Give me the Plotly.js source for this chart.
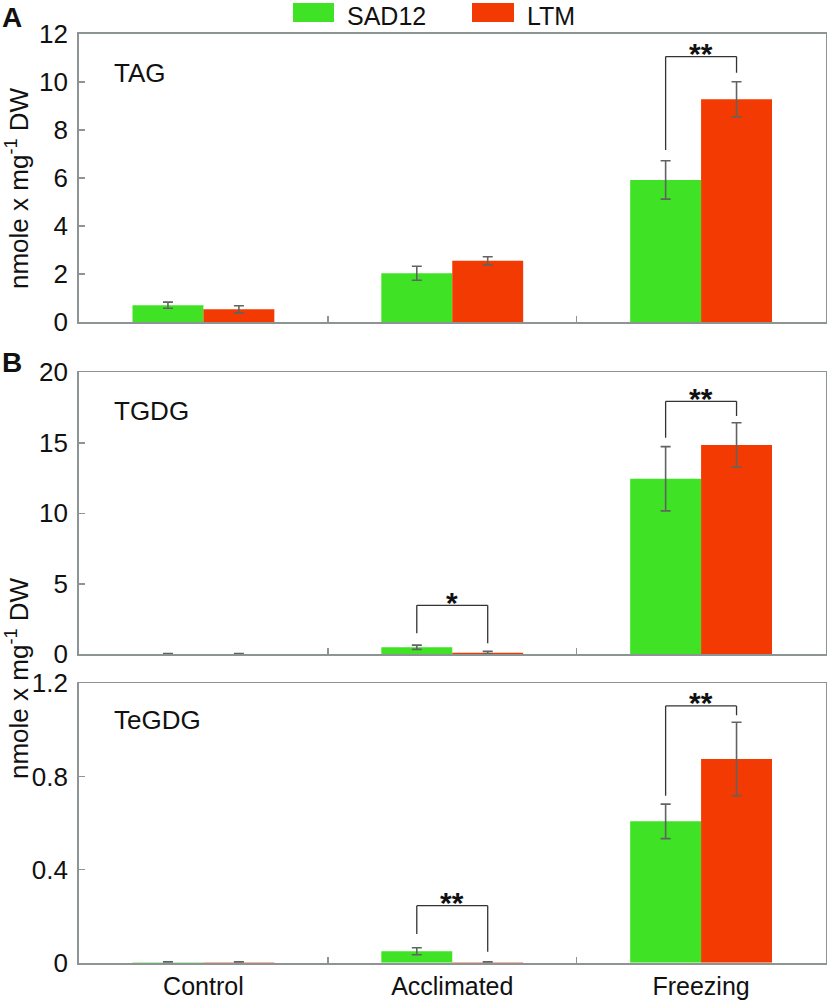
<!DOCTYPE html>
<html>
<head>
<meta charset="utf-8">
<script src="https://cdn.plot.ly/plotly-3.0.1.min.js"></script>
<style>html,body{margin:0;padding:0;background:#fff;}#chart{width:829px;height:1004px;}</style>
</head>
<body>
<div id="chart"></div>
<script>
// ---------------- data ----------------
const categories = ['Control', 'Acclimated', 'Freezing'];
const seriesNames = ['SAD12', 'LTM'];

const tagSAD12 = [0.70, 2.03, 5.92];
const tagSAD12Err = [0.13, 0.29, 0.80];
const tagLTM = [0.53, 2.55, 9.28];
const tagLTMErr = [0.15, 0.17, 0.73];

const tgdgSAD12 = [0.03, 0.50, 12.45];
const tgdgSAD12Err = [0.03, 0.15, 2.28];
const tgdgLTM = [0.02, 0.11, 14.85];
const tgdgLTMErr = [0.03, 0.10, 1.57];

const tegdgSAD12 = [0.002, 0.049, 0.607];
const tegdgSAD12Err = [0.002, 0.015, 0.074];
const tegdgLTM = [0.002, 0.002, 0.875];
const tegdgLTMErr = [0.002, 0.002, 0.158];

const panelNames = ['TAG', 'TGDG', 'TeGDG'];
const tagSig = ['', '', '**'];
const tgdgSig = ['', '*', '**'];
const tegdgSig = ['', '**', '**'];
const yTicks = [[0, 2, 4, 6, 8, 10, 12], [0, 5, 10, 15, 20], [0, 0.4, 0.8, 1.2]];
const yTickText = [['0','2','4','6','8','10','12'], ['0','5','10','15','20'], ['0','0.4','0.8','1.2']];

// ---------------- style / layout ----------------
const W = 829, H = 1004;
const px = v => v / W;
const py = v => 1 - v / H;
const GREEN = '#40e226';
const RED = '#f33a02';
const ERRC = '#5f6462';
const AXC = '#8c9593';
const FONT = 'Liberation Sans, Arial, sans-serif';
const FS = 26;

const panels = [
  {s: tagSAD12, se: tagSAD12Err, l: tagLTM, le: tagLTMErr, sig: tagSig, top: 34, bot: 322, range: [0, 12],
   // bracket geometry per category: [top, leftLegEnd, rightLegEnd]
   br: {2: [11.06, 7.17, 10.39]}},
  {s: tgdgSAD12, se: tgdgSAD12Err, l: tgdgLTM, le: tgdgLTMErr, sig: tgdgSig, top: 372.3, bot: 654.3, range: [0, 20],
   br: {1: [3.47, 1.49, 0.78], 2: [17.94, 15.36, 16.9]}},
  {s: tegdgSAD12, se: tegdgSAD12Err, l: tegdgLTM, le: tegdgLTMErr, sig: tegdgSig, top: 683.3, bot: 962.7, range: [0, 1.2],
   br: {1: [0.245, 0.123, 0.047], 2: [1.103, 0.717, 1.063]}}
];

const traces = [];
const shapes = [];
const annotations = [];
const layout = {
  width: W, height: H,
  margin: {l: 0, r: 0, t: 0, b: 0},
  paper_bgcolor: '#fff', plot_bgcolor: '#fff',
  font: {family: FONT, size: FS, color: '#111'},
  barmode: 'group', bargap: 0.43, bargroupgap: 0,
  showlegend: false
};

const halfOff = 0.1425;

panels.forEach((p, i) => {
  const n = i === 0 ? '' : String(i + 1);
  const xa = 'x' + n, ya = 'y' + n;
  traces.push({
    type: 'bar', name: seriesNames[0], x: categories, y: p.s, xaxis: xa, yaxis: ya,
    marker: {color: GREEN, line: {width: 0}},
    error_y: {type: 'data', array: p.se, visible: true, color: ERRC, thickness: 1.6, width: 5}
  });
  traces.push({
    type: 'bar', name: seriesNames[1], x: categories, y: p.l, xaxis: xa, yaxis: ya,
    marker: {color: RED, line: {width: 0}},
    error_y: {type: 'data', array: p.le, visible: true, color: ERRC, thickness: 1.6, width: 5}
  });
  layout['xaxis' + n] = {
    domain: [px(79), px(825.5)], anchor: ya, type: 'category', range: [-0.5, 2.5],
    showline: true, linecolor: AXC, linewidth: 1.8, mirror: true,
    ticks: 'inside', tickson: 'boundaries', ticklen: 6, tickcolor: AXC, tickwidth: 1.5,
    showticklabels: i === 2, tickfont: {size: 25, color: '#111'}, ticklabelstandoff: 0,
    showgrid: false, zeroline: false, fixedrange: true
  };
  layout['yaxis' + n] = {
    domain: [py(p.bot), py(p.top)], anchor: xa, range: p.range,
    tickmode: 'array', tickvals: yTicks[i], ticktext: yTickText[i],
    showline: true, linecolor: AXC, linewidth: 1.8, mirror: true,
    ticks: 'inside', ticklen: 6, tickcolor: AXC, tickwidth: 1.5,
    tickfont: {size: FS, color: '#111'}, ticklabelstandoff: 4,
    showgrid: false, zeroline: false, fixedrange: true
  };
  // panel label
  annotations.push({xref: 'paper', yref: 'paper', x: px(112), y: py(p.top + 39 - (i === 2 ? 2 : 0)),
    xanchor: 'left', yanchor: 'middle', showarrow: false, text: panelNames[i],
    font: {size: FS, color: '#111'}});
  // significance brackets
  Object.keys(p.br).forEach(k => {
    const c = Number(k);
    const [t, lEnd, rEnd] = p.br[k];
    const x0 = c - halfOff, x1 = c + halfOff;
    const ln = {type: 'line', xref: xa, yref: ya, line: {color: '#333', width: 1.3}};
    shapes.push(Object.assign({}, ln, {x0: x0, x1: x0, y0: lEnd, y1: t}));
    shapes.push(Object.assign({}, ln, {x0: x0, x1: x1, y0: t, y1: t}));
    shapes.push(Object.assign({}, ln, {x0: x1, x1: x1, y0: t, y1: rEnd}));
    annotations.push({xref: xa, yref: ya, x: c, y: t, xanchor: 'center', yanchor: 'middle',
      yshift: 3, showarrow: false, text: '<b>' + p.sig[c] + '</b>',
      font: {size: 30, color: '#111'}});
  });
});

// panel letters
annotations.push({xref: 'paper', yref: 'paper', x: 0, y: 1, xanchor: 'left', yanchor: 'top',
  showarrow: false, text: '<b>A</b>', font: {size: 28, color: '#111'}});
annotations.push({xref: 'paper', yref: 'paper', x: 0, y: py(362), xanchor: 'left', yanchor: 'middle',
  showarrow: false, text: '<b>B</b>', font: {size: 28, color: '#111'}});

// y axis titles
const yTitle = 'nmole x mg<sup>-1</sup> DW';
annotations.push({xref: 'paper', yref: 'paper', x: px(17), y: py(188), textangle: -90,
  xanchor: 'center', yanchor: 'middle', showarrow: false, text: yTitle, font: {size: 26, color: '#111'}});
annotations.push({xref: 'paper', yref: 'paper', x: px(17), y: py(678), textangle: -90,
  xanchor: 'center', yanchor: 'middle', showarrow: false, text: yTitle, font: {size: 26, color: '#111'}});

// legend (custom)
shapes.push({type: 'rect', xref: 'paper', yref: 'paper', x0: px(293), x1: px(334), y0: py(22), y1: py(3),
  fillcolor: GREEN, line: {width: 0}});
shapes.push({type: 'rect', xref: 'paper', yref: 'paper', x0: px(472), x1: px(514), y0: py(22), y1: py(3),
  fillcolor: RED, line: {width: 0}});
annotations.push({xref: 'paper', yref: 'paper', x: px(345), y: 1, xanchor: 'left', yanchor: 'top',
  showarrow: false, text: seriesNames[0], font: {size: 25, color: '#111'}});
annotations.push({xref: 'paper', yref: 'paper', x: px(525), y: 1, xanchor: 'left', yanchor: 'top',
  showarrow: false, text: seriesNames[1], font: {size: 25, color: '#111'}});

layout.shapes = shapes;
layout.annotations = annotations;

Plotly.newPlot('chart', traces, layout, {displayModeBar: false, staticPlot: true});
</script>
</body>
</html>
